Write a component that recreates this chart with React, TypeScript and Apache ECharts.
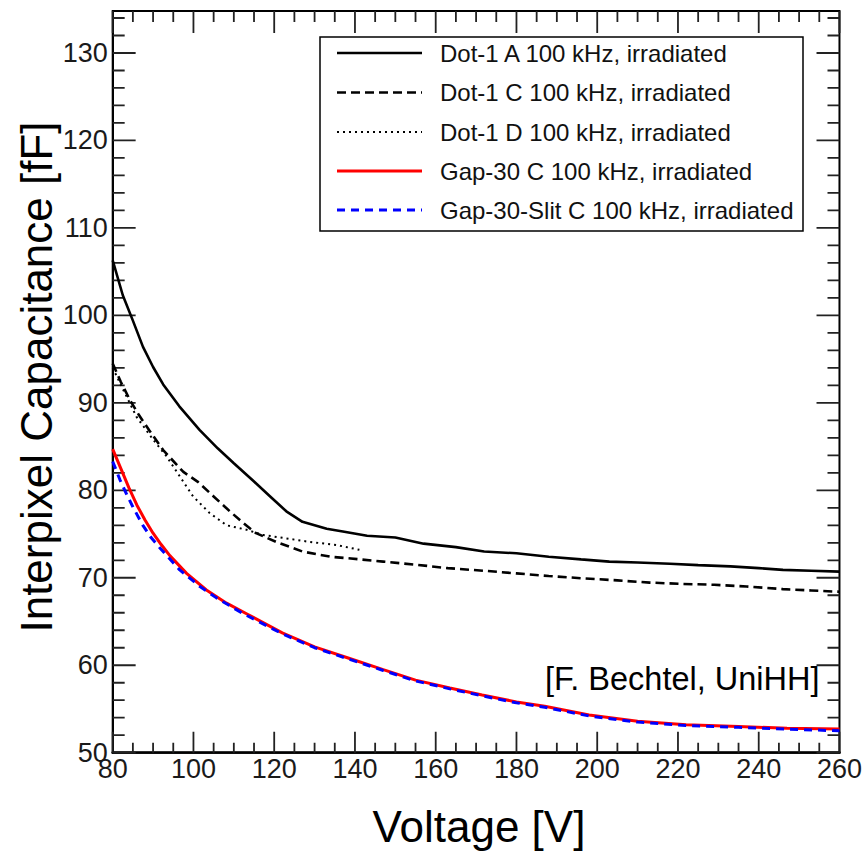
import React, { useEffect, useRef } from 'react';
import * as echarts from 'echarts';

// Dot-1 A 100 kHz, irradiated (solid black)
const dot1AVoltage = [80, 82.5, 85, 87.5, 90, 92.5, 96.5, 101.5, 106, 110, 115, 119, 123, 127, 133, 137, 143, 150, 157, 165, 172, 180, 188, 196, 203, 210, 218, 225, 233, 240, 246, 253, 260];
const dot1ACap = [106.3, 102.3, 99.4, 96.4, 94.1, 92.1, 89.6, 86.9, 84.8, 83.1, 81.0, 79.3, 77.6, 76.4, 75.6, 75.3, 74.8, 74.6, 73.9, 73.5, 73.0, 72.8, 72.4, 72.1, 71.85, 71.75, 71.6, 71.45, 71.3, 71.1, 70.9, 70.8, 70.7];

// Dot-1 C 100 kHz, irradiated (dashed black)
const dot1CVoltage = [80, 82, 84.3, 86.5, 89, 92.5, 97.5, 101, 105, 109, 112.5, 115.5, 120.5, 127, 134, 139, 147, 155, 163, 172, 180, 188, 196, 205, 213, 221, 229, 237, 246, 253, 260];
const dot1CCap = [94.5, 92.4, 90.3, 88.6, 86.9, 84.6, 82.1, 81.0, 79.3, 77.6, 76.2, 75.1, 74.1, 73.0, 72.4, 72.2, 71.85, 71.5, 71.1, 70.8, 70.5, 70.2, 69.95, 69.7, 69.45, 69.3, 69.2, 69.0, 68.7, 68.55, 68.4];

// Dot-1 D 100 kHz, irradiated (dotted black)
const dot1DVoltage = [80, 82.6, 85.9, 90, 93.3, 96.6, 99.9, 104, 108.2, 113.1, 117.2, 123, 128.8, 135.4, 141.1];
const dot1DCap = [94.0, 91.5, 88.4, 85.8, 83.9, 81.6, 79.3, 77.4, 76.0, 75.5, 74.9, 74.5, 74.1, 73.75, 73.2];

// Gap-30 C 100 kHz, irradiated (red)
const gap30Voltage = [80, 82, 84, 86, 88, 90, 92, 94.2, 98.3, 103.2, 108.2, 113.5, 122, 130, 138.5, 147, 155, 163.5, 171.5, 180, 187, 198, 210, 222, 235, 247, 260];
const gap30Cap = [84.7, 82.5, 80.3, 78.3, 76.6, 75.1, 73.8, 72.5, 70.5, 68.6, 67.1, 65.8, 63.7, 62.1, 60.8, 59.5, 58.3, 57.4, 56.6, 55.8, 55.3, 54.3, 53.6, 53.2, 53.0, 52.8, 52.7];

// Gap-30-Slit C 100 kHz, irradiated (blue dashed)
const gap30SlitVoltage = [80, 81.8, 83.5, 85.1, 87.6, 89.5, 91.7, 96.6, 101.6, 105.7, 112.3, 122, 130, 138.5, 147, 155, 163.5, 171.5, 180, 187, 198, 210, 222, 235, 247, 260];
const gap30SlitCap = [83.3, 81.2, 79.5, 78.0, 75.9, 74.6, 73.4, 70.9, 69.0, 67.7, 65.9, 63.6, 62.0, 60.7, 59.4, 58.2, 57.3, 56.5, 55.7, 55.2, 54.2, 53.5, 53.1, 52.9, 52.7, 52.5];

const seriesNames = [
  'Dot-1 A 100 kHz, irradiated',
  'Dot-1 C 100 kHz, irradiated',
  'Dot-1 D 100 kHz, irradiated',
  'Gap-30 C 100 kHz, irradiated',
  'Gap-30-Slit C 100 kHz, irradiated',
];

// Axis tick values
const xMajorTicks = [80, 100, 120, 140, 160, 180, 200, 220, 240, 260];
const xMinorTicks = [85, 90, 95, 105, 110, 115, 125, 130, 135, 145, 150, 155, 165, 170, 175, 185, 190, 195, 205, 210, 215, 225, 230, 235, 245, 250, 255];
const yMajorTicks = [50, 60, 70, 80, 90, 100, 110, 120, 130];
const yMinorTicks = [52, 54, 56, 58, 62, 64, 66, 68, 72, 74, 76, 78, 82, 84, 86, 88, 92, 94, 96, 98, 102, 104, 106, 108, 112, 114, 116, 118, 122, 124, 126, 128, 132, 134];

const X_MIN = 80;
const X_MAX = 260;
const X_INTERVAL = 20;
const Y_MIN = 50;
const Y_MAX = 134.8;
const Y_INTERVAL = 10;

const FONT = '"Liberation Sans", Arial, Helvetica, sans-serif';

const W = 865;
const H = 853;
const GRID = { left: 112.7, right: 24, top: 11, bottom: 100.3 };
const GRID_W = W - GRID.left - GRID.right;
const GRID_H = H - GRID.top - GRID.bottom;
// pixels per data unit, used only to turn tick lengths (px) into axis units
const PX_PER_X = GRID_W / (X_MAX - X_MIN);
const PX_PER_Y = GRID_H / (Y_MAX - Y_MIN);

const zip = (xs: number[], ys: number[]) => xs.map((x, i) => [x, ys[i]]);

export default function App() {
  const ref = useRef<HTMLDivElement>(null);

  useEffect(() => {
    if (!ref.current) return;
    const chart = echarts.init(ref.current, undefined, { renderer: 'svg' });

    const styles = [
      { color: '#000000', width: 2.6, type: 'solid' as any },
      { color: '#000000', width: 2.6, type: [9, 5] as any },
      { color: '#000000', width: 2, type: [2, 4] as any },
      { color: '#ff0000', width: 3, type: 'solid' as any },
      { color: '#0000ff', width: 3, type: [8, 6] as any },
    ];
    const datasets = [
      zip(dot1AVoltage, dot1ACap),
      zip(dot1CVoltage, dot1CCap),
      zip(dot1DVoltage, dot1DCap),
      zip(gap30Voltage, gap30Cap),
      zip(gap30SlitVoltage, gap30SlitCap),
    ];

    const tickColor = '#222222';
    const frameColor = '#000000';

    // Tick marks as short segments (broken by null points), drawn through the axes.
    const tickSegments: any[] = [];
    const addX = (v: number, lbPx: number, ltPx: number) => {
      tickSegments.push([v, Y_MIN], [v, Y_MIN + lbPx / PX_PER_Y], [v, null]);
      tickSegments.push([v, Y_MAX], [v, Y_MAX - ltPx / PX_PER_Y], [v, null]);
    };
    const addY = (v: number, lenPx: number) => {
      tickSegments.push([X_MIN, v], [X_MIN + lenPx / PX_PER_X, v], [null, v]);
      tickSegments.push([X_MAX, v], [X_MAX - lenPx / PX_PER_X, v], [null, v]);
    };
    xMajorTicks.forEach((v) => addX(v, 21, 22));
    xMinorTicks.forEach((v) => addX(v, 10, 11));
    yMajorTicks.forEach((v) => addY(v, 23));
    yMinorTicks.forEach((v) => addY(v, 12));

    const legendRows = [53, 92.5, 132, 171, 210];
    const legendGraphics: any[] = [
      {
        type: 'rect',
        shape: { x: 320, y: 37, width: 483, height: 194 },
        style: { fill: '#ffffff', stroke: '#000', lineWidth: 1.5 },
        z: 10,
      },
    ];
    legendRows.forEach((y, i) => {
      const s = styles[i];
      legendGraphics.push({
        type: 'line',
        shape: { x1: 337, y1: y, x2: 422, y2: y },
        style: {
          stroke: s.color,
          lineWidth: s.width,
          lineDash: Array.isArray(s.type) ? s.type : null,
        },
        z: 11,
      });
      legendGraphics.push({
        type: 'text',
        x: 440,
        y,
        style: {
          text: seriesNames[i],
          fontSize: 24,
          fontFamily: FONT,
          fill: '#111',
          verticalAlign: 'middle',
          align: 'left',
        },
        z: 11,
      });
    });

    chart.setOption({
      animation: false,
      backgroundColor: '#ffffff',
      grid: {
        left: GRID.left,
        right: GRID.right,
        top: GRID.top,
        bottom: GRID.bottom,
        containLabel: false,
        show: true,
        borderColor: frameColor,
        borderWidth: 2,
        backgroundColor: 'transparent',
      },
      xAxis: {
        type: 'value',
        position: 'bottom',
        min: X_MIN,
        max: X_MAX,
        interval: X_INTERVAL,
        axisLine: { show: true, onZero: false, lineStyle: { color: frameColor, width: 2.6 } },
        axisTick: { show: false },
        axisLabel: { show: true, margin: 3, color: '#1a1a1a', fontSize: 27, fontFamily: FONT },
        splitLine: { show: false },
      },
      yAxis: {
        type: 'value',
        position: 'left',
        min: Y_MIN,
        max: Y_MAX,
        interval: Y_INTERVAL,
        axisLine: { show: true, onZero: false, lineStyle: { color: frameColor, width: 2 } },
        axisTick: { show: false },
        axisLabel: { show: true, margin: 5, color: '#1a1a1a', fontSize: 27, fontFamily: FONT, showMaxLabel: false },
        splitLine: { show: false },
      },
      series: [
        {
          name: 'axis ticks',
          type: 'line',
          data: tickSegments,
          symbol: 'none',
          connectNulls: false,
          silent: true,
          clip: false,
          lineStyle: { color: tickColor, width: 1.8, type: 'solid' },
          itemStyle: { color: tickColor },
          z: 2,
        },
        ...datasets.map((d, i) => ({
          name: seriesNames[i],
          type: 'line',
          data: d,
          symbol: 'none',
          smooth: false,
          lineStyle: { color: styles[i].color, width: styles[i].width, type: styles[i].type },
          itemStyle: { color: styles[i].color },
          z: 3 + i,
        })),
      ],
      graphic: [
        ...legendGraphics,
        {
          type: 'text',
          x: 545,
          y: 679,
          style: {
            text: '[F. Bechtel, UniHH]',
            fontSize: 32.5,
            fontFamily: FONT,
            fill: '#000',
            verticalAlign: 'middle',
            align: 'left',
          },
          z: 12,
        },
        {
          type: 'text',
          x: 479,
          y: 826,
          style: {
            text: 'Voltage [V]',
            fontSize: 44,
            fontFamily: FONT,
            fill: '#000',
            verticalAlign: 'middle',
            align: 'center',
          },
        },
        {
          type: 'text',
          x: 36,
          y: 377,
          rotation: Math.PI / 2,
          style: {
            text: 'Interpixel Capacitance [fF]',
            fontSize: 44,
            fontFamily: FONT,
            fill: '#000',
            verticalAlign: 'middle',
            align: 'center',
          },
        },
      ],
    });

    return () => {
      chart.dispose();
    };
  }, []);

  return (
    <div
      ref={ref}
      style={{ position: 'fixed', left: 0, top: 0, width: W, height: H, background: '#fff' }}
    />
  );
}
